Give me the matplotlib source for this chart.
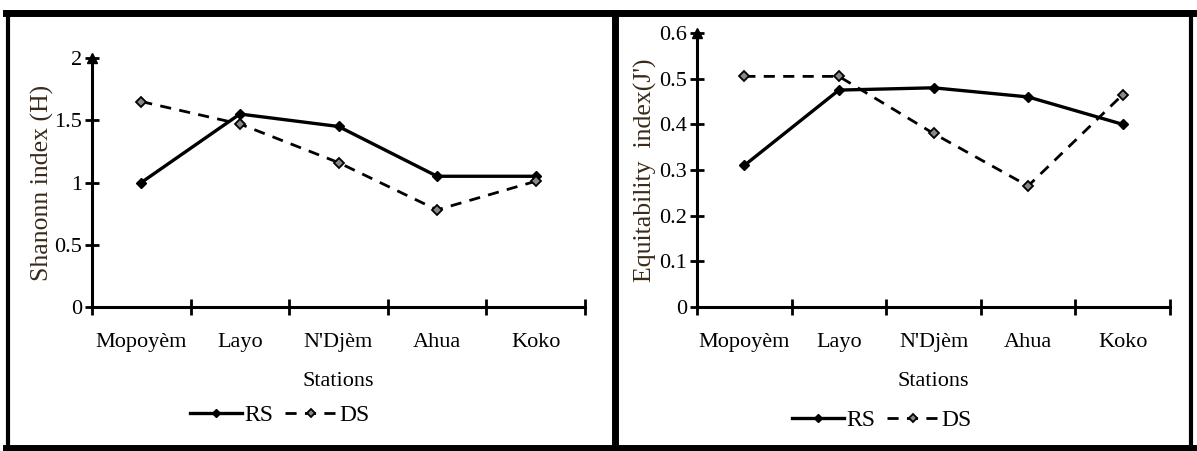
import matplotlib
matplotlib.use("Agg")
import matplotlib.pyplot as plt
from matplotlib.lines import Line2D

stations = ["Mopoyèm", "Layo", "N'Djèm", "Ahua", "Koko"]
shannon_rs = [1.00, 1.55, 1.45, 1.05, 1.05]
shannon_ds = [1.65, 1.47, 1.16, 0.78, 1.01]
equit_rs = [0.31, 0.475, 0.48, 0.46, 0.40]
equit_ds = [0.505, 0.505, 0.38, 0.265, 0.465]
shannon_ticks = [0, 0.5, 1, 1.5, 2]
shannon_ticklabels = ["0", "0.5", "1", "1.5", "2"]
equit_ticks = [0, 0.1, 0.2, 0.3, 0.4, 0.5, 0.6]
equit_ticklabels = ["0", "0.1", "0.2", "0.3", "0.4", "0.5", "0.6"]

plt.rcParams['font.family'] = ['Liberation Serif', 'DejaVu Serif']

W, H = 1197, 451
fig = plt.figure(figsize=(W / 100, H / 100), dpi=100)

def px_axes(x0, x1, ytop, ybot):
    return fig.add_axes([x0 / W, (H - ybot) / H, (x1 - x0) / W, (ybot - ytop) / H])

def fline(xs, ys, lw):
    fig.add_artist(Line2D([v / W for v in xs], [(H - v) / H for v in ys], color='black', lw=lw,
                          transform=fig.transFigure, solid_capstyle='projecting'))

# outer frame and divider
fline([6, 1193], [13, 13], 5)
fline([6, 1193], [448, 448], 5)
fline([8, 8], [13, 448], 3)
fline([1191, 1191], [13, 448], 3)
fline([615, 615], [13, 448], 5)

FS = 16

def make_panel(ax, rs, ds, ticks, ticklabels, ymax, ylabel, ylabel_x, legend_xy):
    x = [i + 0.5 for i in range(len(stations))]
    ax.plot(x, rs, color='black', lw=2.4, marker='D', ms=5, mfc='black', mec='black', zorder=3)
    ax.plot(x, ds, color='black', lw=2.0, ls=(0, (4, 3)), marker='D', ms=5, mfc='#888888', mec='black',
            mew=1.3, zorder=3)
    ax.set_xlim(0, len(stations))
    ax.set_ylim(0, ymax)
    for s in ['top', 'right']:
        ax.spines[s].set_visible(False)
    for s in ['left', 'bottom']:
        ax.spines[s].set_linewidth(2.2)
    ax.set_xticks(range(len(stations) + 1))
    ax.set_xticklabels([])
    ax.set_xticks(x, minor=True)
    ax.set_xticklabels(stations, minor=True, fontsize=FS)
    ax.tick_params(axis='x', which='minor', length=0, pad=19)
    ax.tick_params(axis='x', which='major', direction='inout', length=12, width=2)
    ax.set_yticks(ticks)
    ax.set_yticklabels(ticklabels, fontsize=FS)
    ax.tick_params(axis='y', direction='inout', length=10, width=2, pad=2)
    ax.set_xlabel("Stations", fontsize=FS, labelpad=14)
    ax.set_ylabel(ylabel, fontsize=18.5, color='#3a2a1a')
    ax.yaxis.set_label_coords(ylabel_x, 0.5)
    # arrow at top of y-axis
    ax.plot([0], [ymax], marker='^', color='black', ms=7, clip_on=False, zorder=4)
    handles = [Line2D([], [], color='black', lw=2.4, marker='D', ms=4.5, mfc='black'),
               Line2D([], [], color='black', lw=2.0, ls=(0, (4, 3)), marker='D', ms=4.5, mfc='#888888', mew=1.3)]
    fig.legend(handles, ["RS", "DS"], loc='center', bbox_to_anchor=legend_xy, ncol=2, frameon=False,
               fontsize=17, handlelength=2.2, handletextpad=0.1, columnspacing=0.5)

ax1 = px_axes(92, 585, 58, 307)
make_panel(ax1, shannon_rs, shannon_ds, shannon_ticks, shannon_ticklabels, 2, "Shanonn index (H)", -0.077,
           (280 / W, (H - 415) / H))

ax2 = px_axes(697, 1170, 33, 307)
make_panel(ax2, equit_rs, equit_ds, equit_ticks, equit_ticklabels, 0.6, "Equitability  index(J')", -0.084,
           (882 / W, (H - 420) / H))

fig.savefig("out.png", dpi=100)
